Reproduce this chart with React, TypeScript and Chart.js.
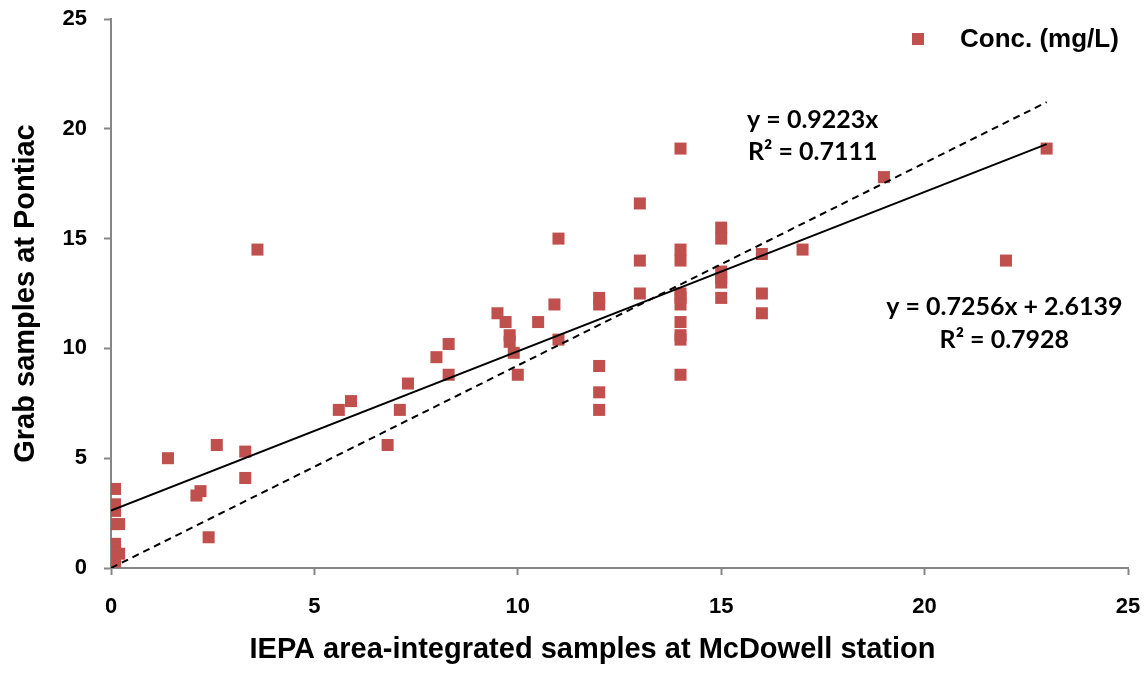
import React, { useEffect, useRef } from 'react';
import { Chart, registerables } from 'chart.js';

Chart.register(...registerables);

const seriesName = 'Conc. (mg/L)';
const xAxisTitle = 'IEPA area-integrated samples at McDowell station';
const yAxisTitle = 'Grab samples at Pontiac';

const xValues = [
  0.1, 0.1, 0.1, 0.1, 0.2, 0.1, 0.1, 0.2, 0.1,
  1.4, 2.6, 3.3, 3.3, 2.2, 2.1, 2.4, 3.6,
  5.6, 5.9, 6.8, 7.1, 7.3, 8.0, 8.3, 8.3,
  9.5, 9.7, 9.8, 9.8, 9.9, 10.0, 10.5, 10.9, 11.0, 11.0,
  12, 12, 12, 12, 12,
  13, 13, 13,
  14, 14, 14, 14, 14, 14, 14, 14, 14, 14,
  15, 15, 15, 15, 15, 15,
  16, 16, 16,
  17, 19, 22, 23,
];
const yValues = [
  3.6, 2.9, 2.6, 2.0, 2.0, 1.1, 0.7, 0.65, 0.3,
  5.0, 5.6, 5.3, 4.1, 3.5, 3.3, 1.4, 14.5,
  7.2, 7.6, 5.6, 7.2, 8.4, 9.6, 10.2, 8.8,
  11.6, 11.2, 10.6, 10.3, 9.8, 8.8, 11.2, 12.0, 15.0, 10.4,
  12.3, 12.0, 9.2, 8.0, 7.2,
  16.6, 14.0, 12.5,
  19.1, 14.5, 14.0, 12.5, 12.3, 12.0, 11.2, 10.6, 10.4, 8.8,
  15.5, 15.0, 13.5, 13.2, 13.0, 12.3,
  14.3, 12.5, 11.6,
  14.5, 17.8, 14.0, 19.1,
];

const fitSlope = 0.7256;
const fitIntercept = 2.6139;
const originSlope = 0.9223;
const fitXRange = [0, 23];

const axisMin = 0;
const axisMax = 25;
const axisStep = 5;

const annotationTexts = ['y = 0.9223x', 'R² = 0.7111', 'y = 0.7256x + 2.6139', 'R² = 0.7928'];
const annotationX = [17.25, 17.25, 21.96, 21.96];
const annotationY = [20.4, 18.94, 11.88, 10.38];

const POINT_COLOR = '#C0504D';
const AXIS_COLOR = '#868686';
const ARIAL = '"Liberation Sans", Arial, sans-serif';

export default function App() {
  const canvasRef = useRef<HTMLCanvasElement | null>(null);

  useEffect(() => {
    const canvas = canvasRef.current;
    if (!canvas) return;

    const textPlugin = {
      id: 'textPlugin',
      afterDatasetsDraw(chart: any) {
        const { ctx, scales, chartArea } = chart;
        const xs = scales.x;
        const ys = scales.y;
        ctx.save();
        ctx.fillStyle = '#000';
        ctx.textAlign = 'center';
        ctx.textBaseline = 'middle';
        ctx.font = 'bold 25px Lato, sans-serif';
        annotationTexts.forEach((t, i) => {
          ctx.fillText(t, xs.getPixelForValue(annotationX[i]), ys.getPixelForValue(annotationY[i]));
        });
        // x axis title
        ctx.font = `bold 29px ${ARIAL}`;
        ctx.fillText(xAxisTitle, (chartArea.left + chartArea.right) / 2 - 27, chartArea.bottom + 82);
        // legend
        const lx = chartArea.right - 210;
        const ly = chartArea.top + 20;
        ctx.fillStyle = chart.data.datasets[0].backgroundColor;
        ctx.fillRect(lx - 6, ly - 6, 12, 12);
        ctx.fillStyle = '#000';
        ctx.textAlign = 'left';
        ctx.font = `bold 26px ${ARIAL}`;
        ctx.fillText(chart.data.datasets[0].label, lx + 42, ly + 1);
        ctx.restore();
      },
    };

    const points = xValues.map((x, i) => ({ x, y: yValues[i] }));
    const fitLine = fitXRange.map((x) => ({ x, y: fitSlope * x + fitIntercept }));
    const originLine = fitXRange.map((x) => ({ x, y: originSlope * x }));

    const clearPad = (s: any) => {
      s.paddingTop = 0;
      s.paddingBottom = 0;
      s.paddingLeft = 0;
      s.paddingRight = 0;
    };

    const chart = new Chart(canvas, {
      type: 'scatter',
      data: {
        datasets: [
          {
            label: seriesName,
            data: points,
            backgroundColor: POINT_COLOR,
            borderColor: POINT_COLOR,
            pointStyle: 'rect',
            pointRadius: 8.5,
            pointBorderWidth: 0,
            order: 2,
          },
          {
            label: 'fit',
            type: 'line',
            data: fitLine,
            borderColor: '#000',
            borderWidth: 2,
            pointRadius: 0,
            fill: false,
            order: 1,
          },
          {
            label: 'origin',
            type: 'line',
            data: originLine,
            borderColor: '#000',
            borderWidth: 2,
            borderDash: [7, 5],
            pointRadius: 0,
            fill: false,
            order: 1,
          },
        ],
      },
      options: {
        animation: false,
        responsive: true,
        maintainAspectRatio: false,
        layout: { padding: { top: 19, right: 19, left: 0, bottom: 0 } },
        plugins: {
          tooltip: { enabled: false },
          legend: { display: false },
        },
        scales: {
          x: {
            type: 'linear',
            min: axisMin,
            max: axisMax,
            afterFit: (s: any) => {
              s.height = 106;
              clearPad(s);
            },
            ticks: {
              stepSize: axisStep,
              color: '#000',
              padding: 19,
              font: { family: ARIAL, size: 22, weight: 'bold' },
            },
            grid: {
              drawOnChartArea: false,
              drawTicks: true,
              tickLength: 7,
              tickColor: AXIS_COLOR,
              tickWidth: 2,
            },
            border: { color: AXIS_COLOR, width: 2 },
          },
          y: {
            type: 'linear',
            min: axisMin,
            max: axisMax,
            afterFit: (s: any) => {
              s.width = 111;
              clearPad(s);
            },
            ticks: {
              stepSize: axisStep,
              color: '#000',
              padding: 17,
              font: { family: ARIAL, size: 22, weight: 'bold' },
            },
            grid: {
              drawOnChartArea: false,
              drawTicks: true,
              tickLength: 7,
              tickColor: AXIS_COLOR,
              tickWidth: 2,
            },
            border: { color: AXIS_COLOR, width: 2 },
            title: {
              display: true,
              text: yAxisTitle,
              color: '#000',
              font: { family: ARIAL, size: 29, weight: 'bold' },
              padding: { top: 8.6, bottom: 0 },
            },
          },
        },
      },
      plugins: [textPlugin],
    });

    return () => chart.destroy();
  }, []);

  return (
    <div style={{ position: 'fixed', left: 0, top: 0, width: 1147, height: 674, background: '#fff' }}>
      <canvas ref={canvasRef} />
    </div>
  );
}
